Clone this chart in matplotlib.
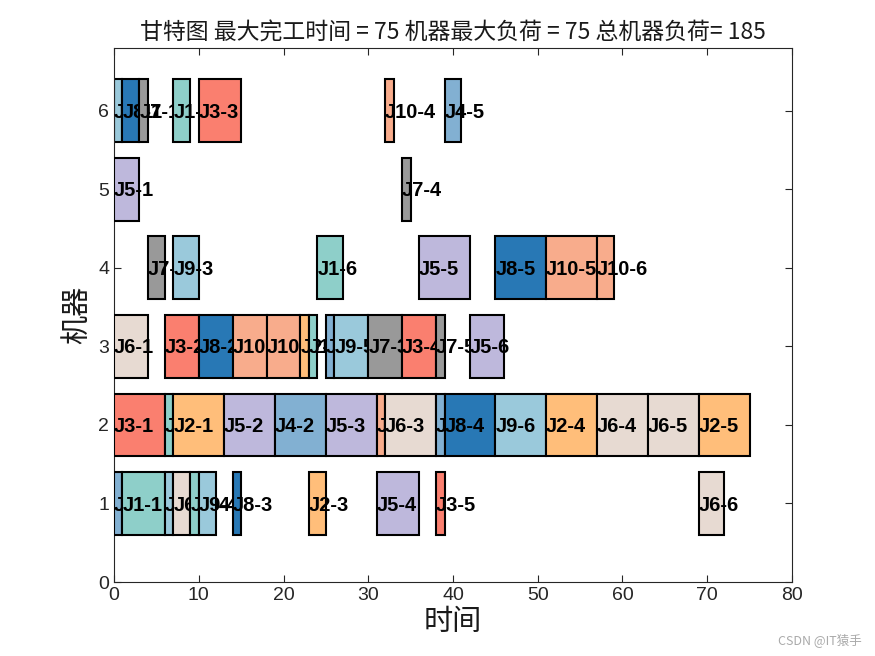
import matplotlib
matplotlib.use("Agg")
import matplotlib.pyplot as plt
from matplotlib.patches import Rectangle

# ---- data ----
op_labels = ["J9-1", "J4-1", "J5-1", "J6-1", "J3-1", "J8-1", "J7-1", "J7-2", "J1-1", "J1-2",
             "J9-2", "J1-3", "J6-2", "J9-3", "J1-4", "J2-1", "J3-2", "J3-3", "J8-2", "J5-2",
             "J9-4", "J8-3", "J10-1", "J10-2", "J4-2", "J2-2", "J1-5", "J2-3", "J1-6", "J4-3",
             "J9-5", "J5-3", "J7-3", "J10-3", "J5-4", "J10-4", "J6-3", "J7-4", "J3-4", "J5-5",
             "J7-5", "J3-5", "J4-4", "J8-4", "J4-5", "J5-6", "J8-5", "J9-6", "J10-5", "J2-4",
             "J6-4", "J10-6", "J6-5", "J2-5", "J6-6"]
op_machine = [6, 1, 5, 3, 2, 6, 6, 4, 1, 2,
              1, 6, 1, 4, 1, 2, 3, 6, 3, 2,
              1, 1, 3, 3, 2, 3, 3, 1, 4, 3,
              3, 2, 3, 2, 1, 6, 2, 5, 3, 4,
              3, 1, 2, 2, 6, 3, 4, 2, 4, 2,
              2, 4, 2, 2, 1]
op_start = [0, 0, 0, 0, 0, 1, 3, 4, 1, 6,
            6, 7, 7, 7, 9, 7, 6, 10, 10, 13,
            10, 14, 14, 18, 19, 22, 23, 23, 24, 25,
            26, 25, 30, 31, 31, 32, 32, 34, 34, 36,
            38, 38, 38, 39, 39, 42, 45, 45, 51, 51,
            57, 57, 63, 69, 69]
op_dur = [1, 1, 3, 4, 6, 2, 1, 2, 5, 1,
          1, 2, 2, 3, 1, 6, 4, 5, 4, 6,
          2, 1, 4, 4, 6, 1, 1, 2, 3, 1,
          4, 6, 4, 1, 5, 1, 6, 1, 4, 6,
          1, 1, 1, 6, 2, 4, 6, 6, 6, 6,
          6, 2, 6, 6, 3]

job_colors = {1: '#8ECFC9', 2: '#FFBE7A', 3: '#FA7F6F', 4: '#82B0D2', 5: '#BEB8DC',
              6: '#E7DAD2', 7: '#999999', 8: '#2878B5', 9: '#9AC9DB', 10: '#F8AC8C'}

title_text = "甘特图 最大完工时间 = 75 机器最大负荷 = 75 总机器负荷= 185"
x_ticks = [0, 10, 20, 30, 40, 50, 60, 70, 80]
y_ticks = [0, 1, 2, 3, 4, 5, 6]

# ---- plot ----
plt.rcParams['font.family'] = ['Liberation Sans', 'Noto Sans CJK SC', 'DejaVu Sans']
fig = plt.figure(figsize=(8.75, 6.56), dpi=100)
ax = fig.add_axes([0.1303, 0.1128, 0.7748, 0.814])

order = sorted(range(len(op_labels)), key=lambda i: (op_start[i], i))
z = 2
for i in order:
    job = int(op_labels[i][1:].split('-')[0])
    m = op_machine[i]
    r = Rectangle((op_start[i], m - 0.4), op_dur[i], 0.8, facecolor=job_colors[job],
                  edgecolor='black', linewidth=1.5, zorder=z)
    ax.add_patch(r)
    z += 1
    ax.text(op_start[i], m - 0.02, op_labels[i], ha='left', va='center', fontsize=14.5,
            fontweight='bold', color='black', zorder=z,
            family=['Liberation Sans', 'DejaVu Sans'])
    z += 1

ax.set_xlim(0, 80)
ax.set_ylim(0, 6.8)
ax.set_xticks(x_ticks)
ax.set_yticks(y_ticks)
ax.tick_params(direction='in', labelsize=14, colors='#262626', length=5,
               top=True, right=True)
for s in ax.spines.values():
    s.set_color('#262626')
    s.set_linewidth(0.8)

ax.set_title(title_text, fontsize=16.5, family=['Noto Sans CJK SC', 'DejaVu Sans'],
             color='#1a1a1a', pad=6)
ax.set_xlabel("时间", fontsize=21, family=['Noto Sans CJK SC'], color='#1a1a1a', labelpad=2)
ax.set_ylabel("机器", fontsize=21, family=['Noto Sans CJK SC'], color='#1a1a1a', labelpad=4)

fig.text(0.937, 0.018, "CSDN @IT猿手", fontsize=9, color='#aaaaaa', ha='center',
         family=['Noto Sans CJK SC', 'DejaVu Sans'])

fig.savefig("out.png", dpi=100)
